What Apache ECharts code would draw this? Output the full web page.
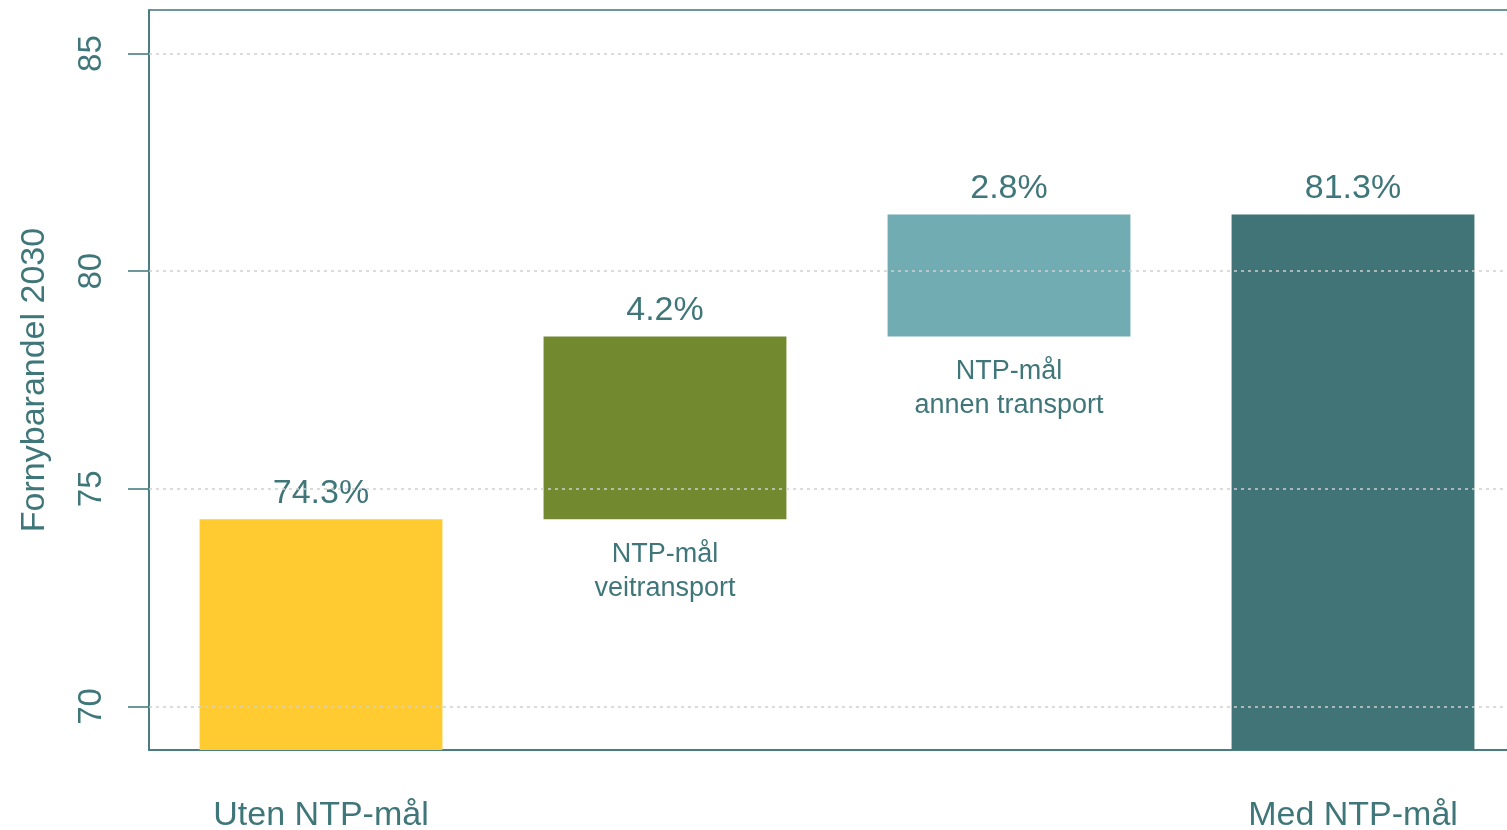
<!DOCTYPE html>
<html>
<head>
<meta charset="utf-8">
<script src="https://cdn.jsdelivr.net/npm/echarts@6/dist/echarts.min.js"></script>
<style>html,body{margin:0;padding:0;background:#fff}#c{width:1507px;height:830px}</style>
</head>
<body>
<div id="c"></div>
<script>
var categories = ['Uten NTP-mål', '', '', 'Med NTP-mål'];
var baseValues = [0, 74.3, 78.5, 0];
var barValues = [74.3, 4.2, 2.8, 81.3];
var valueLabels = ['74.3%', '4.2%', '2.8%', '81.3%'];
var subLabels = ['', 'NTP-mål\nveitransport', 'NTP-mål\nannen transport', ''];
var barColors = ['#FFCB31', '#738930', '#71ACB3', '#407476'];
var yTicks = [70, 75, 80, 85];

var teal = '#3F7679';
var font = 'Liberation Sans, Arial, sans-serif';
var chart = echarts.init(document.getElementById('c'), null, {renderer: 'canvas'});
chart.setOption({
  animation: false,
  grid: {left: 149, top: 10, bottom: 80, width: 1376, outerBoundsMode: 'none', containLabel: false,
    show: true, borderColor: teal, borderWidth: 1.5, backgroundColor: 'transparent'},
  xAxis: {
    type: 'category', data: categories,
    axisLine: {lineStyle: {color: teal, width: 1.5}},
    axisTick: {show: false},
    axisLabel: {color: teal, fontSize: 34, fontFamily: font, margin: 49, interval: 0}
  },
  yAxis: {
    type: 'value', min: 69, max: 86, interval: 5,
    name: 'Fornybarandel 2030', nameLocation: 'middle', nameRotate: 90, nameGap: 97,
    nameTextStyle: {color: teal, fontSize: 34, fontFamily: font},
    axisLine: {show: true, lineStyle: {color: teal, width: 1.5}},
    axisTick: {show: true, length: 21, lineStyle: {color: teal, width: 1.5}, customValues: yTicks},
    axisLabel: {color: teal, fontSize: 33, fontFamily: font, rotate: 90, margin: 41, customValues: yTicks},
    splitLine: {show: false}
  },
  series: [
    {
      type: 'bar', stack: 's', data: baseValues, barWidth: '70.6%',
      itemStyle: {color: 'transparent'},
      label: {show: true, position: 'insideTop', distance: 18, color: teal, fontSize: 27, fontFamily: font, lineHeight: 34,
        formatter: function (p) { return subLabels[p.dataIndex]; }}
    },
    {
      type: 'bar', stack: 's', barWidth: '70.6%',
      data: barValues.map(function (v, i) { return {value: v, itemStyle: {color: barColors[i]}}; }),
      label: {show: true, position: 'top', distance: 9, color: teal, fontSize: 34, fontFamily: font,
        formatter: function (p) { return valueLabels[p.dataIndex]; }}
    },
    {
      type: 'line', data: [], z: 10, silent: true,
      markLine: {
        silent: true, symbol: 'none', label: {show: false},
        lineStyle: {color: '#cfcfcf', type: [3, 4], width: 1.5},
        data: yTicks.map(function (t) { return {yAxis: t}; })
      }
    }
  ]
});
</script>
</body>
</html>
